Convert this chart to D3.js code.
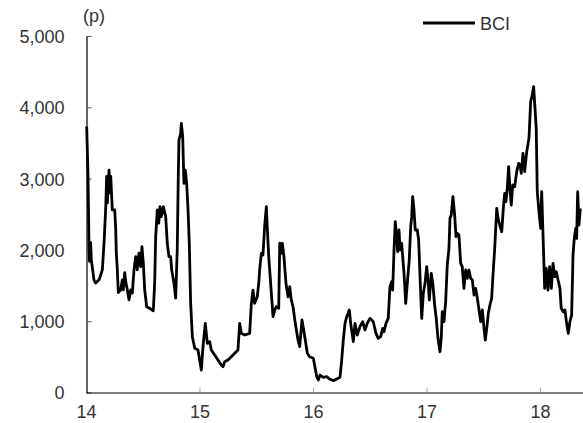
<!DOCTYPE html>
<html>
<head>
<meta charset="utf-8">
<script src="https://cdn.jsdelivr.net/npm/d3@7"></script>
<style>
  html, body { margin: 0; padding: 0; background: #fff; }
  svg { display: block; }
  text { font-family: "Liberation Sans", Arial, sans-serif; }
</style>
</head>
<body>
<svg id="chart" width="583" height="423"></svg>
<script>
// Decimal year (14 = Jan 2014) and BCI value (points)
const years = [
  14.006,14.018,14.026,14.031,14.041,14.047,14.070,14.085,14.115,14.144,14.159,14.174,14.182,14.188,14.203,14.211,14.218,14.232,14.253,14.262,
  14.267,14.276,14.285,14.306,14.320,14.329,14.341,14.352,14.364,14.379,14.394,14.408,14.423,14.438,14.452,14.467,14.482,14.493,14.505,14.517,
  14.535,14.570,14.593,14.605,14.614,14.628,14.641,14.652,14.663,14.681,14.702,14.716,14.731,14.746,14.755,14.775,14.790,14.804,14.813,14.819,
  14.834,14.840,14.852,14.863,14.875,14.887,14.899,14.910,14.922,14.937,14.958,14.987,15.016,15.031,15.051,15.069,15.090,15.104,15.134,15.163,
  15.192,15.207,15.222,15.251,15.280,15.310,15.339,15.354,15.368,15.398,15.442,15.456,15.471,15.486,15.509,15.522,15.530,15.545,15.559,15.574,
  15.589,15.597,15.610,15.627,15.648,15.663,15.677,15.698,15.707,15.721,15.730,15.744,15.762,15.780,15.795,15.809,15.824,15.844,15.868,15.883,
  15.903,15.918,15.932,15.950,15.971,16.003,16.033,16.047,16.062,16.091,16.121,16.150,16.179,16.209,16.238,16.253,16.267,16.282,16.297,16.320,
  16.332,16.355,16.370,16.390,16.414,16.438,16.458,16.478,16.502,16.531,16.555,16.575,16.596,16.614,16.626,16.643,16.663,16.678,16.693,16.702,
  16.714,16.725,16.737,16.746,16.758,16.767,16.781,16.802,16.817,16.831,16.848,16.861,16.870,16.878,16.890,16.901,16.919,16.931,16.943,16.958,
  16.972,16.987,17.002,17.016,17.025,17.042,17.057,17.072,17.086,17.101,17.119,17.130,17.139,17.154,17.169,17.183,17.198,17.207,17.218,17.233,
  17.248,17.260,17.271,17.286,17.301,17.315,17.330,17.345,17.359,17.374,17.389,17.404,17.419,17.433,17.448,17.463,17.478,17.492,17.507,17.518,
  17.531,17.545,17.559,17.574,17.586,17.601,17.619,17.630,17.645,17.663,17.677,17.689,17.700,17.712,17.724,17.736,17.747,17.760,17.777,17.795,
  17.812,17.824,17.835,17.850,17.865,17.883,17.903,17.918,17.932,17.944,17.956,17.967,17.976,17.991,18.006,18.015,18.026,18.041,18.055,18.070,
  18.085,18.100,18.115,18.130,18.144,18.159,18.176,18.187,18.205,18.220,18.233,18.249,18.264,18.279,18.291,18.302,18.315,18.323,18.332,18.344,
  18.355
];
const bci = [
  3730,3030,2100,1840,2100,1860,1580,1535,1580,1720,2100,2600,3030,2660,3120,2800,3030,2560,2560,2280,
  1960,1720,1400,1440,1580,1440,1680,1535,1440,1300,1440,1395,1720,1905,1720,1956,1765,2045,1816,1437,
  1203,1171,1147,1535,2185,2560,2377,2606,2466,2606,2466,2097,1905,1905,1718,1535,1325,1999,3027,3541,
  3635,3775,3588,2934,3120,2934,2560,2097,1255,783,620,596,315,642,970,690,713,596,526,456,
  386,362,432,456,502,550,596,970,830,806,830,1227,1437,1251,1343,1531,1718,1952,1928,2325,
  2606,2325,1905,1531,1063,1157,1203,1181,2093,1952,2093,1905,1531,1343,1484,1297,1203,970,736,642,
  1017,877,736,550,502,479,222,175,245,213,222,185,166,189,213,456,736,970,1063,1157,
  970,713,970,806,923,993,877,970,1040,993,830,760,783,900,853,970,1040,1484,1554,1437,
  1999,2396,2185,1975,2279,1999,2093,1672,1251,1531,1858,2325,2466,2746,2560,2279,2279,2139,1624,1040,
  1391,1531,1765,1531,1297,1672,1508,1227,1040,760,572,760,1133,993,1274,1788,2022,2443,2490,2746,
  2490,2185,2233,2209,1812,1765,1461,1718,1601,1718,1601,1578,1367,1461,1321,1157,993,1157,900,736,
  900,1111,1227,1321,1648,2022,2583,2443,2349,2255,2583,2794,2676,2864,3167,2840,2630,2910,2887,3097,
  3214,3191,3074,3355,3097,3378,3565,4079,4172,4289,3986,3705,2816,2536,2303,2816,2255,1461,1742,1437,
  1765,1461,1812,1624,1694,1578,1461,1181,1133,1157,993,830,993,1087,1928,2162,2303,2162,2816,2349,
  2583
];
const yTicks = [0, 1000, 2000, 3000, 4000, 5000];
const xTicks = [14, 15, 16, 17, 18];
const seriesName = "BCI";
const unitLabel = "(p)";

const data = years.map((t, i) => ({ t, v: bci[i] }));

const svg = d3.select("#chart");
const x = d3.scaleLinear().domain([14, 18.379]).range([86, 583]);
const y = d3.scaleLinear().domain([0, 5000]).range([392.5, 36]);
const textColor = "#333";

// Y axis (ticks pointing inward)
const yAxis = svg.append("g")
  .attr("transform", "translate(86.5,0)")
  .call(d3.axisLeft(y).tickValues(yTicks).tickSizeInner(-5).tickSizeOuter(0)
    .tickPadding(22).tickFormat(d3.format(",")));
yAxis.select(".domain").attr("stroke", "#000").attr("stroke-width", 1.2);
yAxis.selectAll(".tick line").attr("stroke", "#555");
yAxis.selectAll(".tick text").attr("font-size", 18).attr("fill", textColor)
  .attr("dy", "0.36em").attr("font-family", "Liberation Sans, Arial, sans-serif");

// X axis (ticks pointing up)
const xAxis = svg.append("g")
  .attr("transform", "translate(0,392.5)")
  .call(d3.axisBottom(x).tickValues(xTicks).tickSizeInner(-5).tickSizeOuter(0)
    .tickPadding(12.5).tickFormat(d => d));
xAxis.select(".domain").attr("stroke", "#000").attr("stroke-width", 1.2);
xAxis.selectAll(".tick line").attr("stroke", "#aaa")
  .filter(d => d === 14).remove();
xAxis.selectAll(".tick text").attr("font-size", 18).attr("fill", textColor)
  .attr("font-family", "Liberation Sans, Arial, sans-serif");

// Line
const line = d3.line().x(d => x(d.t)).y(d => y(d.v));
svg.append("path")
  .datum(data)
  .attr("d", line)
  .attr("fill", "none")
  .attr("stroke", "#000")
  .attr("stroke-width", 2.8)
  .attr("stroke-linejoin", "round");

// Unit label
svg.append("text").attr("x", 83).attr("y", 22)
  .attr("font-size", 18).attr("fill", textColor).text(unitLabel);

// Legend
svg.append("line").attr("x1", 423).attr("x2", 475).attr("y1", 23).attr("y2", 23)
  .attr("stroke", "#000").attr("stroke-width", 3);
svg.append("text").attr("x", 480).attr("y", 30)
  .attr("font-size", 18).attr("fill", textColor).text(seriesName);
</script>
</body>
</html>
